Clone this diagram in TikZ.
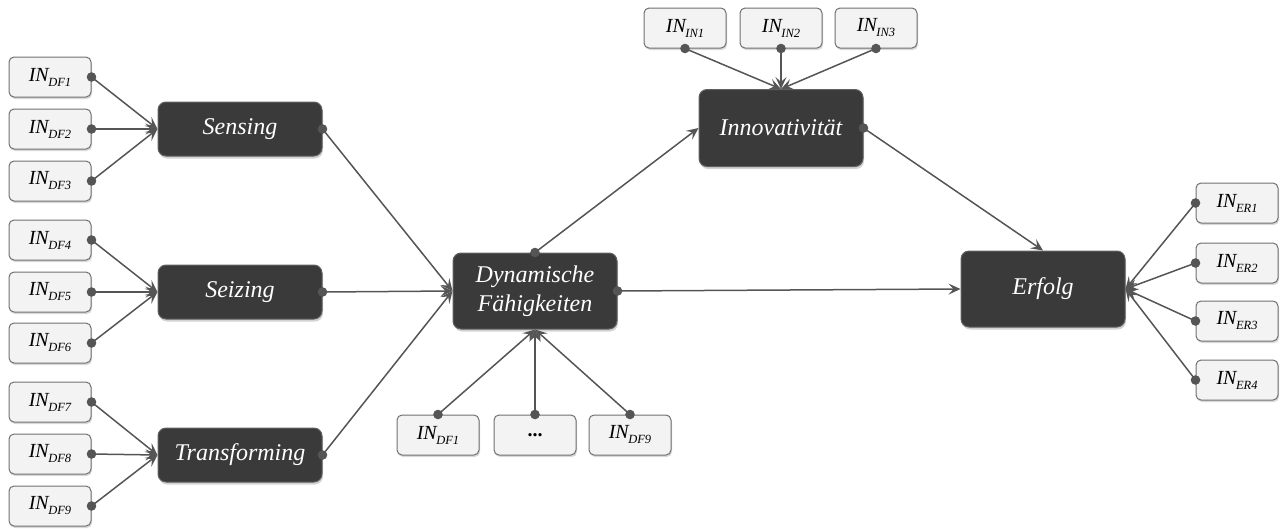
\documentclass[tikz,border=0pt]{standalone}
\usepackage{fontspec}
\setmainfont{Liberation Serif}
\usetikzlibrary{arrows.meta,shadows}

\definecolor{indfill}{HTML}{F3F3F3}
\definecolor{indborder}{HTML}{707070}
\definecolor{darkbox}{HTML}{3A3A3A}
\definecolor{linec}{HTML}{555555}

\newcommand{\ind}[1]{IN\kern-0.5pt\raisebox{-5pt}{\fontsize{12.5}{13}\selectfont #1}}

\tikzset{
  indbox/.style={draw=indborder, fill=indfill, rounded corners=5pt,
    minimum width=82pt, minimum height=40pt, inner sep=0pt, line width=1pt,
    drop shadow={shadow xshift=1pt, shadow yshift=-2pt, opacity=0.3},
    font=\itshape\fontsize{20}{22}\selectfont},
  latent/.style={fill=darkbox, draw=darkbox!80!white, line width=1pt,
    rounded corners=8pt, minimum width=164pt, inner sep=0pt, text=white,
    align=center, drop shadow={shadow xshift=1pt, shadow yshift=-2.5pt, opacity=0.35},
    font=\itshape\fontsize{24}{29}\selectfont},
  link/.style={draw=linec, line width=1.5pt,
    -{Stealth[length=12pt,width=11pt,inset=5pt]}},
}

\begin{document}
\begin{tikzpicture}[x=1pt,y=-1pt]
\useasboundingbox (0,0) rectangle (1282,528);

% latent constructs
\node[latent, minimum height=54pt] (sens) at (240,129) {Sensing};
\node[latent, minimum height=54pt] (seiz) at (240,292) {Seizing};
\node[latent, minimum height=54pt] (trans) at (240,455) {Transforming};
\node[latent, minimum height=76pt] (dyn) at (535,291) {Dynamische\\Fähigkeiten};
\node[latent, minimum height=77pt] (inno) at (781,128) {Innovativität};
\node[latent, minimum height=76pt] (erf) at (1043,289) {Erfolg};

% indicators of the three sub-dimensions
\node[indbox] (df1) at (50,77) {\ind{DF1}};
\node[indbox] (df2) at (50,129) {\ind{DF2}};
\node[indbox] (df3) at (50,181) {\ind{DF3}};
\node[indbox] (df4) at (50,240) {\ind{DF4}};
\node[indbox] (df5) at (50,292) {\ind{DF5}};
\node[indbox] (df6) at (50,343) {\ind{DF6}};
\node[indbox] (df7) at (50,402) {\ind{DF7}};
\node[indbox] (df8) at (50,454) {\ind{DF8}};
\node[indbox] (df9) at (50,506) {\ind{DF9}};

% indicators below the dynamic capabilities
\node[indbox] (db1) at (438,435) {\ind{DF1}};
\node[indbox] (db2) at (535,435) {\textbf{\upshape ...}};
\node[indbox] (db9) at (630,435) {\ind{DF9}};

% innovativeness indicators
\node[indbox] (in1) at (685,28) {\ind{IN1}};
\node[indbox] (in2) at (781,28) {\ind{IN2}};
\node[indbox] (in3) at (876,28) {\ind{IN3}};

% success indicators
\node[indbox] (er1) at (1237,203) {\ind{ER1}};
\node[indbox] (er2) at (1237,263) {\ind{ER2}};
\node[indbox] (er3) at (1237,321) {\ind{ER3}};
\node[indbox] (er4) at (1237,380) {\ind{ER4}};

% connectors
\foreach \s/\t in {df1/sens, df2/sens, df3/sens, df4/seiz, df5/seiz, df6/seiz,
                   df7/trans, df8/trans, df9/trans,
                   sens/dyn, seiz/dyn, trans/dyn}
  \draw[link] (\s.east) -- (\t.west);
\foreach \s in {db1, db2, db9}
  \draw[link] (\s.north) -- (dyn.south);
\foreach \s in {in1, in2, in3}
  \draw[link] (\s.south) -- (inno.north);
\foreach \s in {er1, er2, er3, er4}
  \draw[link] (\s.west) -- (erf.east);
\draw[link] (dyn.north) -- (inno.west);
\draw[link] (dyn.east) -- (erf.west);
\draw[link] (inno.east) -- (erf.north);

% start dots
\foreach \p in {df1.east, df2.east, df3.east, df4.east, df5.east, df6.east,
                df7.east, df8.east, df9.east, sens.east, seiz.east, trans.east,
                db1.north, db2.north, db9.north, in1.south, in2.south, in3.south,
                er1.west, er2.west, er3.west, er4.west,
                dyn.north, dyn.east, inno.east}
  \fill[linec] (\p) circle (4.8pt);
\end{tikzpicture}
\end{document}
